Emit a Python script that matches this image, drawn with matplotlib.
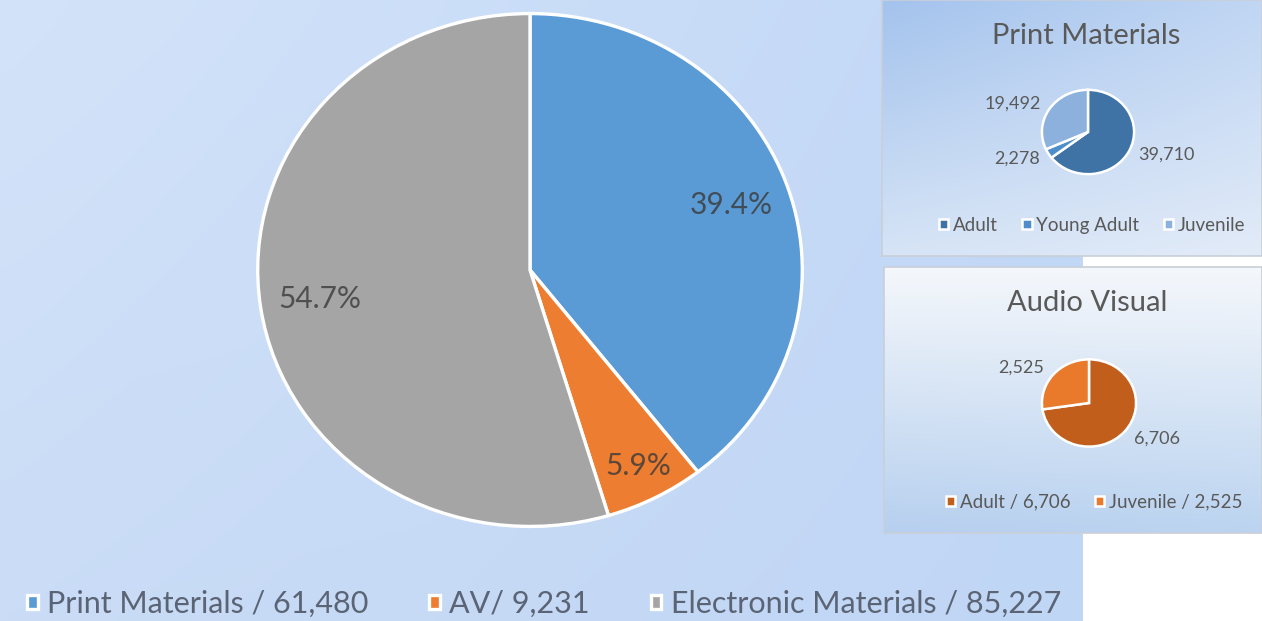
"""Library collection breakdown: main pie (print / AV / electronic) plus two
small inset pies for the print and audio-visual sub-collections."""

import numpy as np
import matplotlib
matplotlib.use("Agg")
import matplotlib.pyplot as plt
from matplotlib.colors import to_rgb

plt.rcParams["font.family"] = ["Lato", "DejaVu Sans"]

# --- data -------------------------------------------------------------------
main_labels = ["Print Materials", "AV", "Electronic Materials"]
main_counts = [61480, 9231, 85227]
main_legend = ["Print Materials / 61,480", "AV/ 9,231",
               "Electronic Materials / 85,227"]
main_colors = ["#5b9bd5", "#ed7d31", "#a5a5a5"]

print_labels = ["Adult", "Young Adult", "Juvenile"]
print_counts = [39710, 2278, 19492]
print_colors = ["#3f73a6", "#4f8ecb", "#8db1dd"]

av_labels = ["Adult / 6,706", "Juvenile / 2,525"]
av_counts = [6706, 2525]
av_colors = ["#c25e1c", "#e97a2c"]

W, H = 1262, 621
TXT = "#595959"


def rect(cx, cy, rx, ry):
    """pixel centre/radii -> figure fraction rect"""
    return [(cx - rx) / W, (H - cy - ry) / H, 2 * rx / W, 2 * ry / H]


def gradient(ax, extent, c_tl, c_tr, c_bl, c_br):
    tl, tr, bl, br = (np.array(to_rgb(c)) for c in (c_tl, c_tr, c_bl, c_br))
    u = np.linspace(0, 1, 64)[None, :, None]
    v = np.linspace(0, 1, 64)[:, None, None]
    img = (1 - v) * ((1 - u) * tl + u * tr) + v * ((1 - u) * bl + u * br)
    ax.imshow(img, extent=extent, aspect="auto", interpolation="bicubic",
              zorder=0)


fig = plt.figure(figsize=(W / 100, H / 100), dpi=100, facecolor="white")

# backgrounds
bg = fig.add_axes([0, 0, 1, 1])
bg.set_xlim(0, W)
bg.set_ylim(H, 0)
bg.axis("off")
gradient(bg, (0, 1083, H, 0), "#d3e3f9", "#c2d8f7", "#cadcf6", "#c0d6f5")
gradient(bg, (882, 1262, 256, 0), "#a4c3ed", "#c0d6f3", "#d6e4f6", "#e2ebf8")
bg.add_patch(plt.Rectangle((882, 0), 380, 256, fill=False, ec="#c9cfd8",
                           lw=1.2, zorder=2))
gradient(bg, (884, 1262, 533, 267), "#f4f7fb", "#f4f7fb", "#b7d0ef", "#bcd4f0")
bg.add_patch(plt.Rectangle((884, 267), 378, 266, fill=False, ec="#c9cfd8",
                           lw=1.2, zorder=2))

# main pie
ax = fig.add_axes(rect(530, 270, 275, 259))
wedges, _, autotexts = ax.pie(
    main_counts, colors=main_colors, startangle=90, counterclock=False,
    autopct="%1.1f%%", pctdistance=0.78,
    wedgeprops=dict(edgecolor="white", linewidth=2.4),
    textprops=dict(fontsize=21.5, color="#3a3a3a"))
for t in autotexts:
    t.set_alpha(0.8)
# the thin AV slice gets its label pushed a bit further out, like Excel does
w = wedges[1]
mid = np.deg2rad((w.theta1 + w.theta2) / 2)
autotexts[1].set_position((0.86 * np.cos(mid), 0.86 * np.sin(mid)))
ax.set_aspect("auto")
ax.set_xlim(-1.01, 1.01)
ax.set_ylim(-1.01, 1.01)

fig.legend(wedges, main_legend, loc="center", ncol=3, frameon=False,
           bbox_to_anchor=(544 / W, 1 - 604 / H), fontsize=22,
           handlelength=0.35, handleheight=0.35, handletextpad=0.3,
           columnspacing=2.0, labelcolor="#5b6475")

# print materials inset
fig.text(1086 / W, 1 - 36 / H, "Print Materials", ha="center", va="center",
         fontsize=21, color=TXT)
ax1 = fig.add_axes(rect(1088, 132, 47, 43))
w1, _ = ax1.pie(print_counts, colors=print_colors, startangle=90,
                counterclock=False, labels=[f"{v:,}" for v in print_counts],
                labeldistance=1.22,
                wedgeprops=dict(edgecolor="white", linewidth=1.8),
                textprops=dict(fontsize=13, color=TXT))
ax1.set_aspect("auto")
ax1.set_xlim(-1.02, 1.02)
ax1.set_ylim(-1.02, 1.02)
fig.legend(w1, print_labels, loc="center", ncol=3, frameon=False,
           bbox_to_anchor=(1092 / W, 1 - 225 / H), fontsize=13.5,
           handlelength=0.5, handleheight=0.5, handletextpad=0.25,
           columnspacing=1.3, labelcolor=TXT)

# audio visual inset
fig.text(1087 / W, 1 - 303 / H, "Audio Visual", ha="center", va="center",
         fontsize=21, color=TXT)
ax2 = fig.add_axes(rect(1089, 403, 48, 44.5))
w2, _ = ax2.pie(av_counts, colors=av_colors, startangle=90,
                counterclock=False, labels=[f"{v:,}" for v in av_counts],
                labeldistance=1.25,
                wedgeprops=dict(edgecolor="white", linewidth=1.8),
                textprops=dict(fontsize=13, color=TXT))
ax2.set_aspect("auto")
ax2.set_xlim(-1.02, 1.02)
ax2.set_ylim(-1.02, 1.02)
fig.legend(w2, av_labels, loc="center", ncol=2, frameon=False,
           bbox_to_anchor=(1094 / W, 1 - 502 / H), fontsize=13.5,
           handlelength=0.5, handleheight=0.5, handletextpad=0.25,
           columnspacing=1.3, labelcolor=TXT)

fig.savefig("out.png", dpi=100, facecolor="white")
